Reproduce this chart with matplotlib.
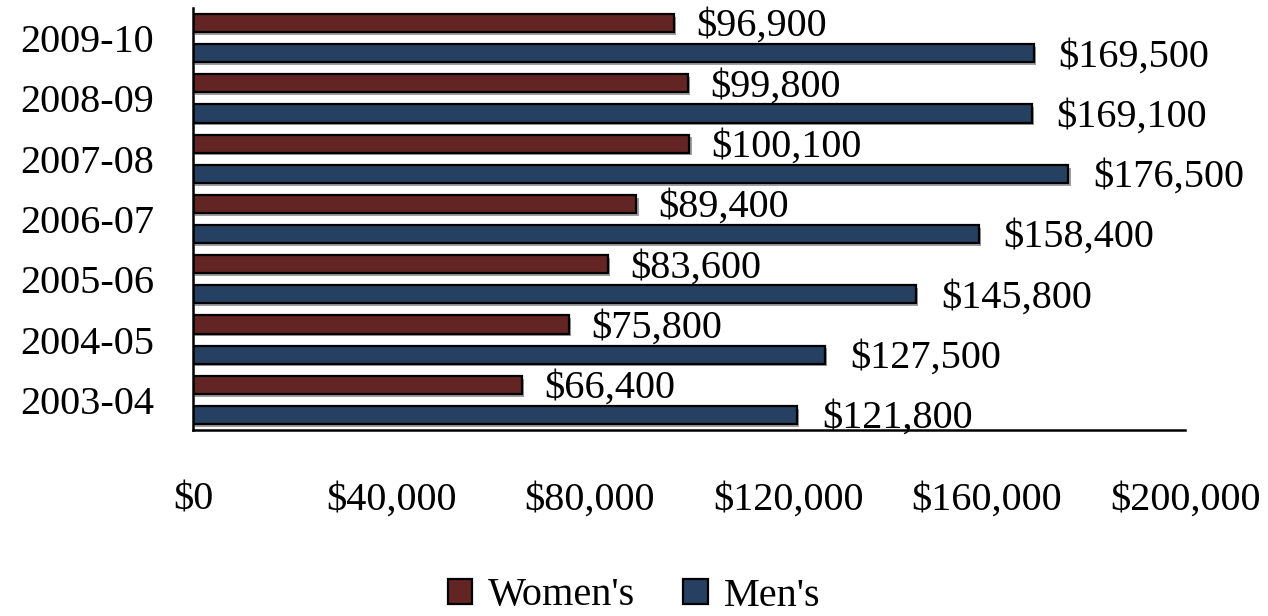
import matplotlib
matplotlib.use("Agg")
import matplotlib.pyplot as plt
import matplotlib.patheffects as pe
import numpy as np

years = ["2003-04", "2004-05", "2005-06", "2006-07", "2007-08", "2008-09", "2009-10"]
women = [66400, 75800, 83600, 89400, 100100, 99800, 96900]
men = [121800, 127500, 145800, 158400, 176500, 169100, 169500]
xticks = [0, 40000, 80000, 120000, 160000, 200000]

plt.rcParams['font.family'] = ['Liberation Serif', 'DejaVu Serif']
FS = 29

fig = plt.figure(figsize=(12.68, 6.16), dpi=100)
ax = fig.add_axes([193/1268, 1 - 430/616, (1185-193)/1268, (430-8)/616])

y = np.arange(len(years))
h = 0.3
c_w = '#632523'
c_m = '#254061'
shadow = [pe.SimplePatchShadow(offset=(1.5, -2), shadow_rgbFace='#777777', alpha=0.7), pe.Normal()]

ax.barh(y + 0.25, women, height=h, color=c_w, edgecolor='black', linewidth=1.6,
        label="Women's", path_effects=shadow)
ax.barh(y - 0.25, men, height=h, color=c_m, edgecolor='black', linewidth=1.6,
        label="Men's", path_effects=shadow)

for yi, v in zip(y + 0.25, women):
    ax.annotate(f"${v:,}", (v, yi), xytext=(16, -2.5), textcoords='offset points',
                va='center', ha='left', fontsize=FS)
for yi, v in zip(y - 0.25, men):
    ax.annotate(f"${v:,}", (v, yi), xytext=(18, -2.5), textcoords='offset points',
                va='center', ha='left', fontsize=FS)

ax.set_xlim(0, 200000)
ax.set_ylim(-0.5, 6.5)
ax.set_xticks(xticks)
ax.set_xticklabels([f"${t:,}" for t in xticks], fontsize=FS)
ax.set_yticks(y)
ax.set_yticklabels(years, fontsize=FS)
ax.tick_params(axis='x', length=0, pad=37)
ax.tick_params(axis='y', length=0, pad=28)
for s in ['top', 'right']:
    ax.spines[s].set_visible(False)
for s in ['left', 'bottom']:
    ax.spines[s].set_linewidth(1.8)
    ax.spines[s].set_color('black')

handles = [plt.Rectangle((0, 0), 1, 1, facecolor=c_w, edgecolor='black', linewidth=1.6),
           plt.Rectangle((0, 0), 1, 1, facecolor=c_m, edgecolor='black', linewidth=1.6)]
fig.legend(handles, ["Women's", "Men's"], loc='center', bbox_to_anchor=(0.5, 1 - 596/616),
           ncol=2, frameon=False, fontsize=FS, handlelength=0.6, handleheight=0.6,
           handletextpad=0.4, columnspacing=1.2, borderpad=0.2)

fig.savefig("out.png", dpi=100)
